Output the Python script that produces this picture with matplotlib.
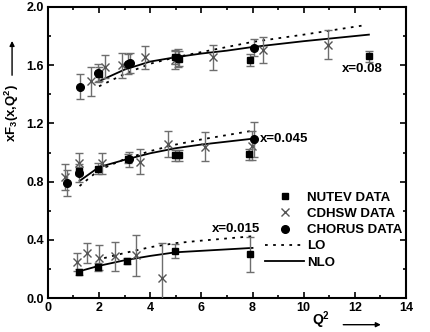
import matplotlib
matplotlib.use('Agg')
import matplotlib.pyplot as plt
from matplotlib.ticker import MultipleLocator, FormatStrFormatter
from matplotlib.lines import Line2D

plt.rcParams['font.family'] = ['Liberation Sans', 'DejaVu Sans']
plt.rcParams['font.weight'] = 'bold'
plt.rcParams['mathtext.default'] = 'regular'

# NuTeV data (squares): Q2, xF3, error
nutev_q2 = [2.0, 4.96, 5.13, 7.89, 12.54,
            1.2, 1.96, 3.14, 4.96, 5.13, 7.88,
            1.2, 1.95, 3.1, 4.96, 7.89]
nutev_f3 = [1.54, 1.655, 1.645, 1.637, 1.66,
            0.873, 0.89, 0.957, 0.98, 0.98, 0.987,
            0.18, 0.214, 0.255, 0.324, 0.30]
nutev_err = [0.05, 0.05, 0.05, 0.04, 0.035,
             0.03, 0.04, 0.03, 0.04, 0.04, 0.04,
             0.02, 0.025, 0.02, 0.05, 0.12]

# CDHSW data (crosses)
cdhsw_q2 = [1.70, 2.25, 2.9, 3.8, 4.99, 6.44, 8.4, 10.96,
            0.68, 1.2, 2.12, 3.6, 4.7, 6.14, 7.98,
            1.15, 1.53, 1.99, 2.63, 3.43, 4.48]
cdhsw_f3 = [1.49, 1.59, 1.6, 1.655, 1.637, 1.655, 1.706, 1.74,
            0.83, 0.925, 0.925, 0.937, 1.059, 1.04, 1.047,
            0.248, 0.31, 0.278, 0.287, 0.294, 0.14]
cdhsw_err = [0.1, 0.08, 0.085, 0.08, 0.06, 0.085, 0.09, 0.1,
             0.09, 0.075, 0.075, 0.085, 0.09, 0.1, 0.1,
             0.065, 0.07, 0.085, 0.1, 0.14, 0.24]

# CHORUS data (circles)
chorus_q2 = [1.24, 1.97, 3.13, 3.2, 5.1, 8.05,
             0.75, 1.2, 3.17, 8.05]
chorus_f3 = [1.453, 1.545, 1.607, 1.614, 1.65, 1.72,
             0.79, 0.861, 0.953, 1.09]
chorus_err = [0.085, 0.06, 0.07, 0.07, 0.06, 0.06,
              0.09, 0.06, 0.05, 0.12]

# theory curves
lo08_q2 = [2, 3, 4, 5, 6, 7, 8, 10, 12.4]
lo08_f3 = [1.455, 1.54, 1.61, 1.655, 1.69, 1.725, 1.76, 1.81, 1.875]
nlo08_q2 = [2, 3, 4, 5, 6, 7, 8, 10, 12.55]
nlo08_f3 = [1.49, 1.57, 1.625, 1.655, 1.68, 1.70, 1.725, 1.765, 1.81]

lo045_q2 = [1.24, 2, 3, 4, 5, 6, 7, 8]
lo045_f3 = [0.77, 0.88, 0.955, 1.01, 1.055, 1.09, 1.12, 1.15]
nlo045_q2 = [1.24, 2, 3, 4, 5, 6, 7, 8]
nlo045_f3 = [0.805, 0.9, 0.95, 0.995, 1.03, 1.055, 1.075, 1.095]

lo015_q2 = [2.2, 3, 4, 5, 6, 7, 8]
lo015_f3 = [0.275, 0.31, 0.35, 0.378, 0.395, 0.41, 0.425]
nlo015_q2 = [1.24, 2, 3, 4, 5, 6, 7, 8]
nlo015_f3 = [0.185, 0.222, 0.26, 0.29, 0.315, 0.325, 0.335, 0.345]

fig = plt.figure(figsize=(4.31, 3.32), dpi=100)
ax = fig.add_axes([0.111, 0.102, 0.831, 0.877])

ecol = '#6e6e6e'
for xs, ys in [(lo08_q2, lo08_f3), (lo045_q2, lo045_f3), (lo015_q2, lo015_f3)]:
    ax.plot(xs, ys, color='black', lw=1.3, ls=(0, (1.5, 3)), zorder=2)
for xs, ys in [(nlo08_q2, nlo08_f3), (nlo045_q2, nlo045_f3), (nlo015_q2, nlo015_f3)]:
    ax.plot(xs, ys, color='black', lw=1.3, zorder=2)

ax.errorbar(cdhsw_q2, cdhsw_f3, yerr=cdhsw_err, fmt='x', color='#555555',
            ms=6, mew=1.0, ecolor=ecol, elinewidth=1.0, capsize=3, capthick=1.0, zorder=3)
ax.errorbar(nutev_q2, nutev_f3, yerr=nutev_err, fmt='s', color='black',
            ms=5, ecolor=ecol, elinewidth=1.0, capsize=3, capthick=1.0, zorder=4)
ax.errorbar(chorus_q2, chorus_f3, yerr=chorus_err, fmt='o', color='black',
            ms=5.5, ecolor=ecol, elinewidth=1.0, capsize=3, capthick=1.0, zorder=4)

ax.text(11.5, 1.575, 'x=0.08', fontsize=9.5, fontweight='bold', va='center')
ax.text(8.3, 1.095, 'x=0.045', fontsize=9.5, fontweight='bold', va='center')
ax.text(6.4, 0.475, 'x=0.015', fontsize=9.5, fontweight='bold', va='center')

ax.set_xlim(0, 14)
ax.set_ylim(0, 2.0)
ax.xaxis.set_major_locator(MultipleLocator(2))
ax.xaxis.set_minor_locator(MultipleLocator(1))
ax.yaxis.set_major_locator(MultipleLocator(0.4))
ax.yaxis.set_minor_locator(MultipleLocator(0.2))
ax.yaxis.set_major_formatter(FormatStrFormatter('%.1f'))
ax.tick_params(which='both', direction='in', top=True, right=True, width=1.2)
ax.tick_params(which='major', length=4, labelsize=9, pad=3)
ax.tick_params(which='minor', length=2.5)
for s in ax.spines.values():
    s.set_linewidth(1.5)
for lab in ax.get_xticklabels() + ax.get_yticklabels():
    lab.set_fontweight('bold')

handles = [
    Line2D([], [], marker='s', color='black', ls='none', ms=5),
    Line2D([], [], marker='x', color='#555555', ls='none', ms=6, mew=1.0),
    Line2D([], [], marker='o', color='black', ls='none', ms=5.5),
    Line2D([], [], color='black', lw=1.3, ls=(0, (1.5, 3))),
    Line2D([], [], color='black', lw=1.3),
]
labels = ['NUTEV DATA', 'CDHSW DATA', 'CHORUS DATA', 'LO', 'NLO']
ax.legend(handles, labels, loc='lower left', bbox_to_anchor=(0.58, 0.07),
          frameon=False, handlelength=3.0, handletextpad=0.2,
          labelspacing=0.3, borderpad=0.2, prop={'weight': 'bold', 'size': 9.5})

fig.text(0.028, 0.66, r'xF$_3$(x,Q$^2$)', rotation=90, fontsize=9.5,
         fontweight='bold', ha='center', va='center')
fig.add_artist(matplotlib.patches.FancyArrowPatch((0.028, 0.765), (0.028, 0.885),
               transform=fig.transFigure, arrowstyle='-|>', mutation_scale=7,
               color='black', lw=1.0))
fig.text(0.745, 0.004, r'Q$^2$', fontsize=10, fontweight='bold', ha='center', va='bottom')
fig.add_artist(matplotlib.patches.FancyArrowPatch((0.79, 0.022), (0.89, 0.022),
               transform=fig.transFigure, arrowstyle='-|>', mutation_scale=7,
               color='black', lw=1.0))

fig.savefig('out.png', dpi=100)
